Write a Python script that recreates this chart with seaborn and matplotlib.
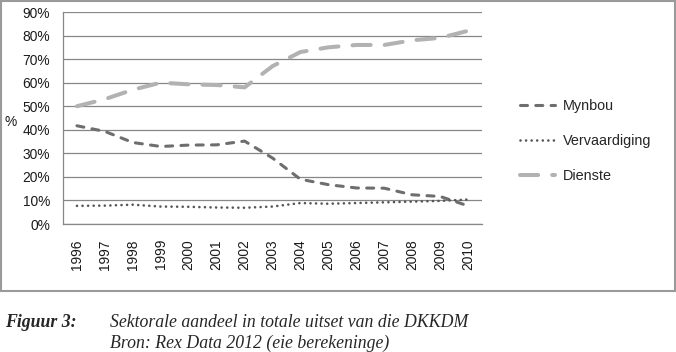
import numpy as np
import pandas as pd
import seaborn as sns
import matplotlib.pyplot as plt
from matplotlib.patches import Rectangle

# Sector shares of total output (%)
years = list(range(1996, 2011))
mynbou = [41.7, 39.3, 34.6, 32.9, 33.5, 33.6, 35.2, 28.0, 19.0, 16.7, 15.3, 15.2, 12.4, 11.7, 7.7]
vervaardiging = [7.7, 7.8, 8.2, 7.4, 7.3, 7.0, 6.9, 7.4, 8.9, 8.6, 8.9, 9.2, 9.5, 9.8, 10.4]
dienste = [50.0, 53.0, 57.0, 60.0, 59.3, 59.0, 58.0, 67.0, 73.0, 75.0, 76.0, 76.0, 78.0, 79.0, 82.0]
series_names = ['Mynbou', 'Vervaardiging', 'Dienste']
y_ticks = [0, 10, 20, 30, 40, 50, 60, 70, 80, 90]


def build_frame():
    return pd.DataFrame({'jaar': years * 3,
                         'aandeel': mynbou + vervaardiging + dienste,
                         'sektor': np.repeat(series_names, len(years))})


def plot_figure(df):
    sns.set_style('white')
    plt.rcParams['font.family'] = ['Liberation Sans', 'DejaVu Sans']
    grid_grey = '#878787'

    fig = plt.figure(figsize=(6.76, 3.52), dpi=100)
    ax = fig.add_axes([63 / 676, 128 / 352, 419 / 676, 212 / 352])

    palette = {'Mynbou': '#6e6e6e', 'Vervaardiging': '#555555', 'Dienste': '#b2b2b2'}
    sizes = {'Mynbou': 2.2, 'Vervaardiging': 1.9, 'Dienste': 2.9}
    dashes = {'Mynbou': (2.3, 2.7), 'Vervaardiging': (0.01, 2.1), 'Dienste': (4.5, 3.5)}
    sns.lineplot(data=df, x='jaar', y='aandeel', hue='sektor', size='sektor', style='sektor',
                 hue_order=series_names, size_order=series_names, style_order=series_names,
                 palette=palette, sizes=sizes, dashes=dashes, ax=ax)
    for line in ax.lines:
        line.set_dash_capstyle('round')

    ax.set_xlim(years[0] - 0.5, years[-1] + 0.5)
    ax.set_ylim(0, 90)
    ax.set_xticks(years)
    ax.set_xticklabels([str(y) for y in years], rotation=90)
    ax.set_yticks(y_ticks)
    ax.set_yticklabels([f'{t}%' for t in y_ticks])
    ax.tick_params(axis='both', length=0, labelsize=9.9, colors='#1a1a1a')
    ax.tick_params(axis='y', pad=9.2)
    ax.tick_params(axis='x', pad=10.8)
    ax.yaxis.grid(True, color=grid_grey, lw=0.9)
    ax.xaxis.grid(False)
    ax.set_axisbelow(True)
    for side in ['top', 'right']:
        ax.spines[side].set_visible(False)
    for side in ['left', 'bottom']:
        ax.spines[side].set_color(grid_grey)
        ax.spines[side].set_linewidth(0.9)
    ax.set_xlabel('')
    ax.set_ylabel('%', rotation=0, fontsize=9.9, ha='center', va='center', color='#1a1a1a')
    ax.yaxis.set_label_coords(-0.125, 0.481)

    # Legend on the right, no frame
    handles, labels = ax.get_legend_handles_labels()
    keep = [(h, l) for h, l in zip(handles, labels) if l in series_names]
    ax.get_legend().remove()
    leg = ax.legend([h for h, _ in keep], [l for _, l in keep], loc='center left',
                    bbox_to_anchor=(520 / 676, 211 / 352), bbox_transform=fig.transFigure,
                    frameon=False, fontsize=10.4, handlelength=2.45, handletextpad=0.55,
                    labelspacing=1.45, borderpad=0, borderaxespad=0)
    for line in leg.get_lines():
        line.set_dash_capstyle('round')

    # Grey box around the chart
    fig.add_artist(Rectangle((1 / 676, 61 / 352), 674 / 676, 290 / 352, transform=fig.transFigure,
                             fill=False, edgecolor='#9a9a9a', lw=1.5))

    # Caption below the chart
    serif = ['Liberation Serif', 'DejaVu Serif']
    fig.text(5 / 676, 25 / 352, 'Figuur 3:', fontsize=12.8, fontweight='bold', fontstyle='italic',
             family=serif, va='baseline')
    fig.text(110 / 676, 25 / 352, 'Sektorale aandeel in totale uitset van die DKKDM', fontsize=12.8,
             fontstyle='italic', family=serif, va='baseline')
    fig.text(110 / 676, 4 / 352, 'Bron: Rex Data 2012 (eie berekeninge)', fontsize=12.8,
             fontstyle='italic', family=serif, va='baseline')

    fig.savefig('out.png', dpi=100)


if __name__ == '__main__':
    plot_figure(build_frame())
